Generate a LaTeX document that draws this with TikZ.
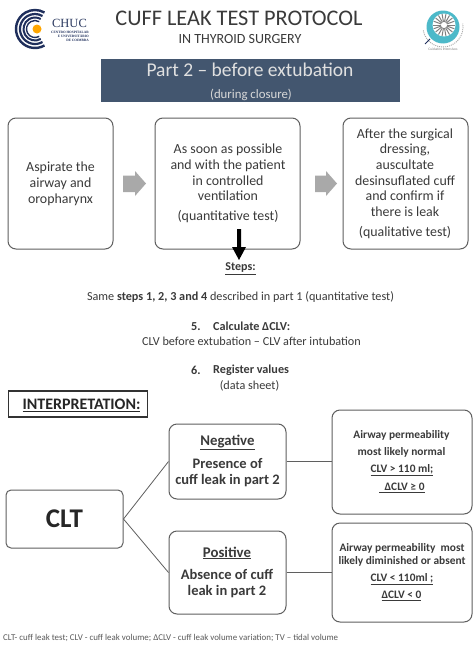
\documentclass[tikz,border=0pt]{standalone}
\usepackage{fontspec}
\setmainfont{Carlito}
\newfontfamily\logoserif{Liberation Serif}
\usetikzlibrary{calc}
\newcommand{\uln}[1]{\underline{#1}}
\definecolor{txt}{HTML}{3A3A3A}
\definecolor{edge}{HTML}{5F5F5F}
\definecolor{banner}{HTML}{43566F}
\definecolor{garrow}{HTML}{A9A9A9}
\definecolor{logob}{HTML}{1F2F5C}
\definecolor{teal}{HTML}{4DB9C9}
\tikzset{
  rbox/.style={draw=edge,line width=1pt,rounded corners=8pt,align=center,text=txt,inner sep=0pt,fill=white},
  conn/.style={draw=edge,line width=0.8pt},
  lbl/.style={inner sep=0pt,align=center,text=txt},
  grayarrow/.style={fill=garrow,draw=none},
}
\begin{document}
\begin{tikzpicture}[x=1pt,y=-1pt]
\useasboundingbox (0,0) rectangle (474,645);
\fill[white] (0,0) rectangle (474,645);

% CHUC logo
\foreach \r/\w in {19/2.4,15/2.2,11.5/2,8.5/1.4}
  \draw[logob,line width=\w pt] ($(35,29)+(60:\r)$) arc (60:300:\r);
\fill[orange!70!yellow] (37,29) circle (4.5);
\node[lbl,text=logob!85!gray,font=\logoserif\fontsize{12.5}{13}\selectfont] (chuc) at (69.5,23.5) {CHUC};
\node[lbl,text=logob,align=right,anchor=east,font=\logoserif\bfseries\fontsize{3.4}{3.9}\selectfont] (chucsub) at (89,36.5) {CENTRO HOSPITALAR\\E UNIVERSITÁRIO\\DE COIMBRA};

% right logo
\fill[teal] (443,27) circle (16.5);
\fill[white] (444,25) circle (11.5);
\foreach \a in {0,20,...,340}
  \draw[gray,line width=1pt] ($(444,25)+(\a:3)$) -- ($(444,25)+(\a:11)$);
\draw[gray!70,line width=0.9pt,dash pattern=on 1pt off 1pt] (443,27) ++(170:20) arc (170:-10:20);
\draw[logob,line width=0.9pt] (425,44) -- (430,39);
\node[lbl,text=gray,font=\fontsize{3.6}{4}\selectfont] (rlogo) at (443,49) {Cuidados Intensivos};

% title
\node[lbl,font=\fontsize{22.3}{26}\selectfont] (title) at (239,18) {CUFF LEAK TEST PROTOCOL};
\node[lbl,font=\fontsize{14}{16}\selectfont] (subtitle) at (240,39) {IN THYROID SURGERY};

% banner
\node[fill=banner,minimum width=299pt,minimum height=43pt,inner sep=0pt] (banner) at (250.5,80) {};
\node[lbl,text=white!88!black,font=\fontsize{19.5}{22}\selectfont] (part) at (250,69.5) {Part 2 – before extubation};
\node[lbl,text=white!85!black,font=\fontsize{12.8}{14}\selectfont] (during) at (251,95) {(during closure)};

% top row
\node[rbox,minimum width=105pt,minimum height=131pt,font=\fontsize{13.9}{16}\selectfont] (b1) at (60.5,183.5) {Aspirate the\\airway and\\oropharynx};
\node[rbox,minimum width=145pt,minimum height=131pt] (b2) at (227.5,183.5) {};
\node[lbl,font=\fontsize{13.9}{15.6}\selectfont] (b2t) at (228,172.5) {As soon as possible\\and with the patient\\in controlled\\ventilation};
\node[lbl,font=\fontsize{13.9}{15.6}\selectfont] (b2q) at (228,217) {(quantitative test)};
\node[rbox,minimum width=125pt,minimum height=131pt] (b3) at (405.5,183.5) {};
\node[lbl,font=\fontsize{13.9}{15.6}\selectfont] (b3t) at (405,172.5) {After the surgical\\dressing,\\auscultate\\desinsuflated cuff\\and confirm if\\there is leak};
\node[lbl,font=\fontsize{13.9}{15.6}\selectfont] (b3q) at (405,233) {(qualitative test)};

% gray arrows
\fill[grayarrow] (123,175.5) -- (135,175.5) -- (135,171) -- (146,183.5) -- (135,196) -- (135,192) -- (123,192) -- cycle;
\fill[grayarrow] (315,175.5) -- (326,175.5) -- (326,171) -- (337,183.5) -- (326,196) -- (326,192) -- (315,192) -- cycle;

% black arrow
\fill[black] (237,229) -- (241,229) -- (241,247) -- (246,247) -- (239,260) -- (232,247) -- (237,247) -- cycle;

% steps
\node[lbl,font=\bfseries\fontsize{12}{14}\selectfont] (steps) at (240.5,268.5) {\uln{Steps:}};
\node[lbl,font=\fontsize{12.2}{14}\selectfont] (same) at (240.5,297) {Same \textbf{steps 1, 2, 3 and 4} described in part 1 (quantitative test)};
\node[lbl,font=\bfseries\fontsize{12.2}{14}\selectfont,anchor=west] (five) at (191,326.5) {5.};
\node[lbl,font=\bfseries\fontsize{12.2}{14}\selectfont,anchor=west] (calc) at (213,326.5) {Calculate ΔCLV:};
\node[lbl,font=\fontsize{12.2}{14}\selectfont] (clvdiff) at (251.5,341.5) {CLV before extubation – CLV after intubation};
\node[lbl,font=\bfseries\fontsize{12.2}{14}\selectfont,anchor=west] (six) at (191,370.5) {6.};
\node[lbl,font=\bfseries\fontsize{12.2}{14}\selectfont,anchor=west] (reg) at (213,370.5) {Register values};
\node[lbl,font=\fontsize{12.2}{14}\selectfont] (sheet) at (249.5,385.5) {(data sheet)};

% interpretation
\node[draw=black!80,line width=1.2pt,fill=white,minimum width=139pt,minimum height=26pt,inner sep=0pt] (interp) at (78,404) {};
\node[lbl,text=black!85,font=\bfseries\fontsize{16}{18}\selectfont] (interpt) at (81.5,405) {\uln{INTERPRETATION:}};

% bottom tree
\node[rbox,rounded corners=5pt,minimum width=117pt,minimum height=58pt,text=black!85,font=\bfseries\fontsize{27}{30}\selectfont] (clt) at (64.5,519) {CLT};
\node[rbox,minimum width=117pt,minimum height=75pt] (neg) at (227.5,461.5) {};
\node[lbl,font=\bfseries\fontsize{14.8}{17}\selectfont] (negt) at (227.5,442.5) {\uln{Negative}};
\node[lbl,font=\bfseries\fontsize{14.5}{16}\selectfont] (negb) at (227.5,473) {Presence of\\cuff leak in part 2};
\node[rbox,minimum width=117pt,minimum height=83pt] (pos) at (227.5,572.5) {};
\node[lbl,font=\bfseries\fontsize{14.8}{17}\selectfont] (post) at (227,553) {\uln{Positive}};
\node[lbl,font=\bfseries\fontsize{14.5}{16}\selectfont] (posb) at (227,584) {Absence of cuff\\leak in part 2};
\node[rbox,minimum width=140pt,minimum height=104pt] (rn) at (402,462) {};
\node[lbl,font=\bfseries\fontsize{11.4}{17}\selectfont] (rnt) at (401.5,444) {Airway permeability\\most likely normal};
\node[lbl,font=\bfseries\fontsize{11.4}{13}\selectfont] (rnc) at (402,470.5) {\uln{CLV > 110 ml;}};
\node[lbl,font=\bfseries\fontsize{11.4}{13}\selectfont] (rnd) at (402,488) {\uln{\ \ ΔCLV ≥ 0}};
\node[rbox,minimum width=140pt,minimum height=99pt] (rp) at (402,572.5) {};
\node[lbl,font=\bfseries\fontsize{11.4}{12.5}\selectfont] (rpt) at (402,555) {Airway permeability\ \ most\\likely diminished or absent};
\node[lbl,font=\bfseries\fontsize{11.4}{13}\selectfont] (rpc) at (402,579) {\uln{CLV < 110ml ;}};
\node[lbl,font=\bfseries\fontsize{11.4}{13}\selectfont] (rpd) at (401.5,596) {\uln{ΔCLV < 0}};

\draw[conn] (clt.east) -- (neg.west);
\draw[conn] (clt.east) -- (pos.west);
\draw[conn,line width=1.1pt] (neg.east) -- (rn.west |- neg.east);
\draw[conn] (pos.east) -- (rp.west |- pos.east);

% footnote
\node[lbl,anchor=west,text=black!65,font=\fontsize{8.9}{10}\selectfont] (foot) at (3,638) {CLT- cuff leak test; CLV - cuff leak volume; ΔCLV - cuff leak volume variation; TV – tidal volume};
\end{tikzpicture}
\end{document}
